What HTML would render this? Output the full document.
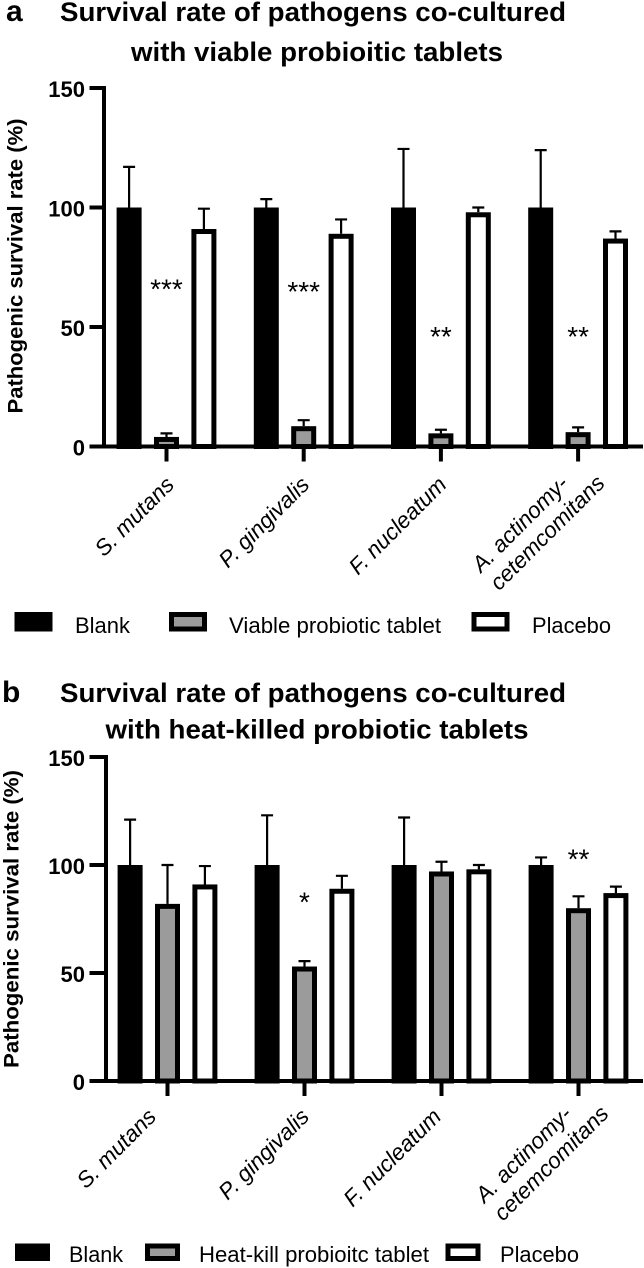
<!DOCTYPE html>
<html lang="en">
<head>
<meta charset="utf-8">
<title>Survival rate of pathogens</title>
<style>
html,body{margin:0;padding:0;background:#fff;}
svg{display:block;font-family:"Liberation Sans",Arial,sans-serif;filter:blur(0.35px);}
</style>
</head>
<body>
<svg id="fig" xmlns="http://www.w3.org/2000/svg" width="644" height="1268" viewBox="0 0 644 1268">
<rect width="644" height="1268" fill="#fff"/>
<g id="static" fill="#000">
<text x="6" y="21" font-size="30" font-weight="700">a</text>
<text x="60" y="21" font-size="26.5" font-weight="700" textLength="506" lengthAdjust="spacingAndGlyphs">Survival rate of pathogens co-cultured</text>
<text x="131" y="61" font-size="26.5" font-weight="700" textLength="372" lengthAdjust="spacingAndGlyphs">with viable probioitic tablets</text>
<text x="2" y="702" font-size="30" font-weight="700">b</text>
<text x="60" y="702" font-size="26.5" font-weight="700" textLength="506" lengthAdjust="spacingAndGlyphs">Survival rate of pathogens co-cultured</text>
<text x="105.5" y="738.5" font-size="26.5" font-weight="700" textLength="423" lengthAdjust="spacingAndGlyphs">with heat-killed probiotic tablets</text>
<text transform="translate(22.5 266) rotate(-90)" text-anchor="middle" font-size="21.5" font-weight="700" textLength="295" lengthAdjust="spacingAndGlyphs">Pathogenic survival rate (%)</text>
<text transform="translate(18.5 919) rotate(-90)" text-anchor="middle" font-size="21.5" font-weight="700" textLength="298" lengthAdjust="spacingAndGlyphs">Pathogenic survival rate (%)</text>
</g>
<g id="plots"></g>
</svg>
<script>
var categories = ['S. mutans', 'P. gingivalis', 'F. nucleatum', 'A. actinomy-|cetemcomitans'];
var yTicks = [0, 50, 100, 150];
var yTickLabels = ['0', '50', '100', '150'];

var blankA = [100, 100, 100, 100];
var blankErrTopA = [117, 103.5, 124.5, 124];
var viableA = [4, 8.5, 5.5, 6];
var viableErrTopA = [5.5, 11, 7, 8];
var placeboA = [91, 89, 98, 87];
var placeboErrTopA = [99.5, 95, 100, 90];
var sigLabelsA = ['***', '***', '**', '**'];
var sigLevelsA = [67, 66, 47, 47];

var blankB = [100, 100, 100, 100];
var blankErrTopB = [121, 123, 122, 103.5];
var heatKillB = [82, 53, 97, 80];
var heatKillErrTopB = [100, 55.5, 101.5, 85.5];
var placeboB = [91, 89, 98, 87];
var placeboErrTopB = [99.5, 95, 100, 90];
var sigLabelsB = ['', '*', '', '**'];
var sigLevelsB = [0, 84, 0, 104];

var legendLabelsA = ['Blank', 'Viable probiotic tablet', 'Placebo'];
var legendLabelsB = ['Blank', 'Heat-kill probioitc tablet', 'Placebo'];

var NS = 'http://www.w3.org/2000/svg';
var plots = document.getElementById('plots');

function make(tag, attrs, parent) {
  var el = document.createElementNS(NS, tag);
  for (var k in attrs) el.setAttribute(k, attrs[k]);
  parent.appendChild(el);
  return el;
}

function drawPanel(p) {
  var g = make('g', {}, plots);
  
  

  function yScale(v) { return p.y0 - v * (p.y0 - p.y150) / 150; }
  function xScale(i) { return p.x0 + i * p.step; }

  var fills = ['#000', '#9b9b9b', '#fff'];
  var names = ['blank', p.midName, 'placebo'];

  p.series.forEach(function (vals, s) {
    vals.forEach(function (v, i) {
      var cx = xScale(i) + (s - 1) * p.gap;
      var top = yScale(p.errs[s][i]);
      var barTop = yScale(v);
      var err = make('path', {
        d: 'M' + cx + ' ' + barTop + 'V' + top + 'M' + (cx - 6) + ' ' + top + 'H' + (cx + 6),
        fill: 'none', stroke: '#000', 'stroke-width': 2.2
      }, g);
      
      
      var sw = 5;
      var bar = make('rect', {
        x: cx - 12.5 + sw / 2, y: barTop + sw / 2,
        width: 25 - sw, height: Math.max(0, p.y0 - barTop - sw / 2),
        fill: fills[s], stroke: '#000', 'stroke-width': sw
      }, g);
      
      
    });
  });

  var yAxis = make('line', { x1: p.axisX, x2: p.axisX, y1: yScale(150) - 2, y2: p.y0 + 2, stroke: '#000', 'stroke-width': 4 }, g);
  
  
  var xAxis = make('line', { x1: 89.5, x2: 643, y1: p.y0, y2: p.y0, stroke: '#000', 'stroke-width': 4 }, g);
  
  

  yTicks.forEach(function (t, i) {
    var tick = make('line', { x1: 89.5, x2: p.axisX, y1: yScale(t), y2: yScale(t), stroke: '#000', 'stroke-width': 4 }, g);
    
    
    var lab = make('text', { x: 85, y: yScale(t) + 9, 'text-anchor': 'end', 'font-size': 22, 'font-weight': 700 }, g);
    lab.textContent = yTickLabels[i];
    
    
  });

  categories.forEach(function (c, i) {
    var cx = xScale(i);
    var tick = make('line', { x1: cx, x2: cx, y1: p.y0, y2: p.y0 + 15, stroke: '#000', 'stroke-width': 4 }, g);
    
    

    var lines = c.split('|');
    lines.forEach(function (line, li) {
      var off = lines.length > 1 ? (li === 0 ? p.twoLine[0] : p.twoLine[1]) : [p.labelDx[i], 0];
      var ax = cx + off[0];
      var ay = p.labelY + off[1];
      var t = make('text', {
        transform: 'translate(' + ax + ' ' + ay + ') rotate(-45)',
        'text-anchor': 'end', 'font-size': p.labelSize, 'font-style': 'italic'
      }, g);
      t.textContent = line;
      
      
    });

    if (p.sig[i]) {
      var s = make('text', { x: cx, y: yScale(p.sigLevel[i]) + 12, 'text-anchor': 'middle', 'font-size': 28 }, g);
      s.textContent = p.sig[i];
      
      
    }
  });

  var lg = p.legend;
  p.legendLabels.forEach(function (txt, i) {
    var sw = i === 0 ? 0 : 5;
    var box = make('rect', {
      x: lg.boxX[i] + sw / 2, y: lg.boxY + sw / 2,
      width: lg.boxW - sw, height: lg.boxH - sw,
      fill: fills[i], stroke: '#000', 'stroke-width': sw
    }, g);
    
    
    var t = make('text', {
      x: lg.textX[i], y: lg.textY, 'font-size': lg.size,
      textLength: lg.textW[i], lengthAdjust: 'spacingAndGlyphs'
    }, g);
    t.textContent = txt;
    
    
  });
}

drawPanel({
  id: 'panel-a', midName: 'viable', axisX: 104, y0: 446.5, y150: 88,
  x0: 166.5, step: 137.2, gap: 37.4,
  series: [blankA, viableA, placeboA], errs: [blankErrTopA, viableErrTopA, placeboErrTopA],
  sig: sigLabelsA, sigLevel: sigLevelsA,
  labelDx: [9, 7, 7, 0], twoLine: [[-8.5, -1], [28, -1.5]], labelY: 486, labelSize: 22.5,
  legendLabels: legendLabelsA,
  legend: { boxX: [14.5, 169, 471.5], boxY: 612, boxW: 38, boxH: 19.5, textX: [75, 229, 532], textY: 633, textW: [55, 212, 79], size: 22 }
});

drawPanel({
  id: 'panel-b', midName: 'heat-kill', axisX: 106, y0: 1081, y150: 757,
  x0: 167.5, step: 137, gap: 37.4,
  series: [blankB, heatKillB, placeboB], errs: [blankErrTopB, heatKillErrTopB, placeboErrTopB],
  sig: sigLabelsB, sigLevel: sigLevelsB,
  labelDx: [-10, 6, 1, 0], twoLine: [[-5.5, -2.5], [31.5, -3]], labelY: 1118, labelSize: 22.5,
  legendLabels: legendLabelsB,
  legend: { boxX: [15, 145, 445.5], boxY: 1243.5, boxW: 35, boxH: 17.5, textX: [69, 199, 500], textY: 1262, textW: [54, 230, 79], size: 22 }
});
</script>
</body>
</html>
